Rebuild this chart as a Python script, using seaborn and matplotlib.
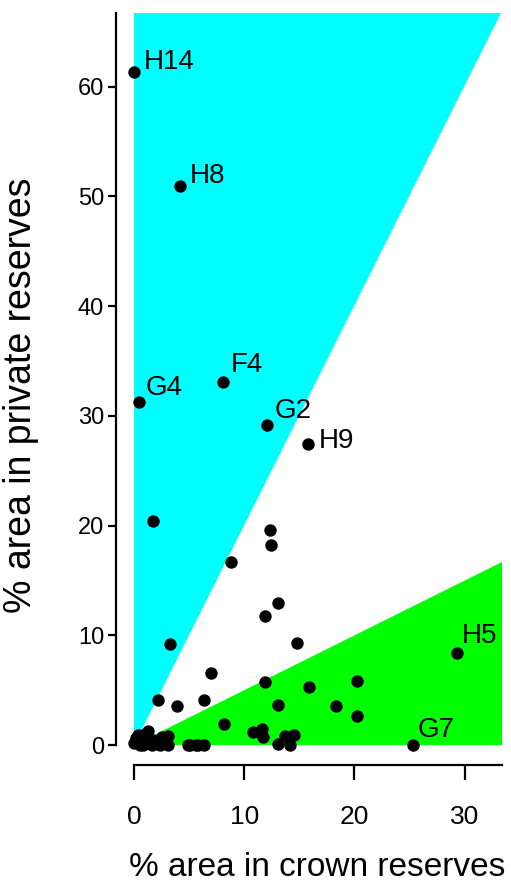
import matplotlib
matplotlib.use("Agg")
import matplotlib.pyplot as plt
import seaborn as sns
import pandas as pd

# ---- data ----
crown = [0.0, 4.2, 8.1, 0.45, 12.1, 15.8, 29.3, 25.35,
         1.75, 12.34, 12.4, 8.8, 13.04, 11.86, 3.27, 14.76, 6.99, 11.89, 15.88, 20.26,
         2.2, 3.93, 6.38, 13.04, 18.33, 20.26, 8.2, 10.83, 11.6, 11.67, 13.1, 13.7,
         14.16, 14.5, 4.93, 5.63, 6.35, 3.11, 3.11, 1.3, 0.4, 0.0, 0.85, 1.75, 2.36,
         2.5, 1.6, 0.55, 5.08, 5.84, 0.2, 1.0, 2.0, 2.9, 0.7]
private = [61.3, 50.9, 33.1, 31.3, 29.2, 27.4, 8.35, 0.0,
           20.4, 19.6, 18.2, 16.7, 12.9, 11.75, 9.2, 9.27, 6.56, 5.77, 5.25, 5.83,
           4.07, 3.6, 4.13, 3.64, 3.6, 2.64, 1.91, 1.21, 1.43, 0.7, 0.06, 0.82,
           0.0, 0.9, 0.0, 0.0, 0.0, 0.82, 0.0, 1.3, 0.9, 0.15, 0.0, 0.45, 0.0,
           0.75, 0.0, 0.0, 0.0, 0.0, 0.6, 1.0, 0.3, 0.4, 0.2]
site = ["H14", "H8", "F4", "G4", "G2", "H9", "H5", "G7"] + [""] * (len(crown) - 8)

x_ticks = [0, 10, 20, 30]
y_ticks = [0, 10, 20, 30, 40, 50, 60]
x_label = "% area in crown reserves"
y_label = "% area in private reserves"

# label offsets in points (dx, dy) relative to the marker centre (text baseline-left)
label_offsets = {"H14": (7, 2), "H8": (7, 2.5), "F4": (5.5, 7), "G4": (5, 5),
                 "G2": (5, 5), "H9": (7.5, -3), "H5": (3.5, 7.5), "G7": (3, 5.5)}

df = pd.DataFrame({"crown": crown, "private": private, "site": site})

sns.set_style("white")
plt.rcParams["font.family"] = ["Liberation Sans", "DejaVu Sans"]
plt.rcParams["text.color"] = "black"
plt.rcParams["axes.labelcolor"] = "black"

W, H = 511, 883
fig = plt.figure(figsize=(W / 100, H / 100), dpi=100)
ax = fig.add_axes([116 / W, 118 / H, 386 / W, 752 / H])

xlim = (-1.64, 33.4)
ylim = (-1.82, 66.7)
ax.set_xlim(*xlim)
ax.set_ylim(*ylim)

# shaded sectors: private > 2*crown (cyan), private < 0.5*crown (green)
ytop = ylim[1]
xr = xlim[1]
ax.fill([0, 0, ytop / 2], [0, ytop, ytop], color="#00FFFF", lw=0, zorder=0)
ax.fill([0, xr, xr], [0, 0, 0.5 * xr], color="#00FF00", lw=0, zorder=0)

sns.scatterplot(data=df, x="crown", y="private", ax=ax, color="black",
                s=80, edgecolor="black", linewidth=0, zorder=3)

for _, r in df[df["site"] != ""].iterrows():
    dx, dy = label_offsets[r["site"]]
    ax.annotate(r["site"], (r["crown"], r["private"]), xytext=(dx, dy),
                textcoords="offset points", ha="left", va="baseline",
                fontsize=20, color="black")

for s in ["top", "right"]:
    ax.spines[s].set_visible(False)
ax.spines["left"].set_bounds(0, ytop)
ax.spines["bottom"].set_bounds(0, xr)
for s in ["left", "bottom"]:
    ax.spines[s].set_linewidth(1.6)
    ax.spines[s].set_color("black")

ax.set_xticks(x_ticks)
ax.set_yticks(y_ticks)
ax.tick_params(axis="x", direction="out", length=10.5, width=1.6, pad=18,
               labelsize=19, colors="black", bottom=True)
ax.tick_params(axis="y", direction="out", length=5.5, width=1.6, pad=3,
               labelsize=17, colors="black", left=True)
ax.set_xlabel("")
ax.set_ylabel("")
ax.grid(False)

fig.text(317 / W, 1 - 876 / H, x_label, fontsize=24, ha="center", va="baseline",
         color="black")
fig.text(31 / W, 1 - 395 / H, y_label, fontsize=27, rotation=90,
         rotation_mode="anchor", ha="center", va="baseline", color="black")

fig.savefig("out.png", dpi=100)
